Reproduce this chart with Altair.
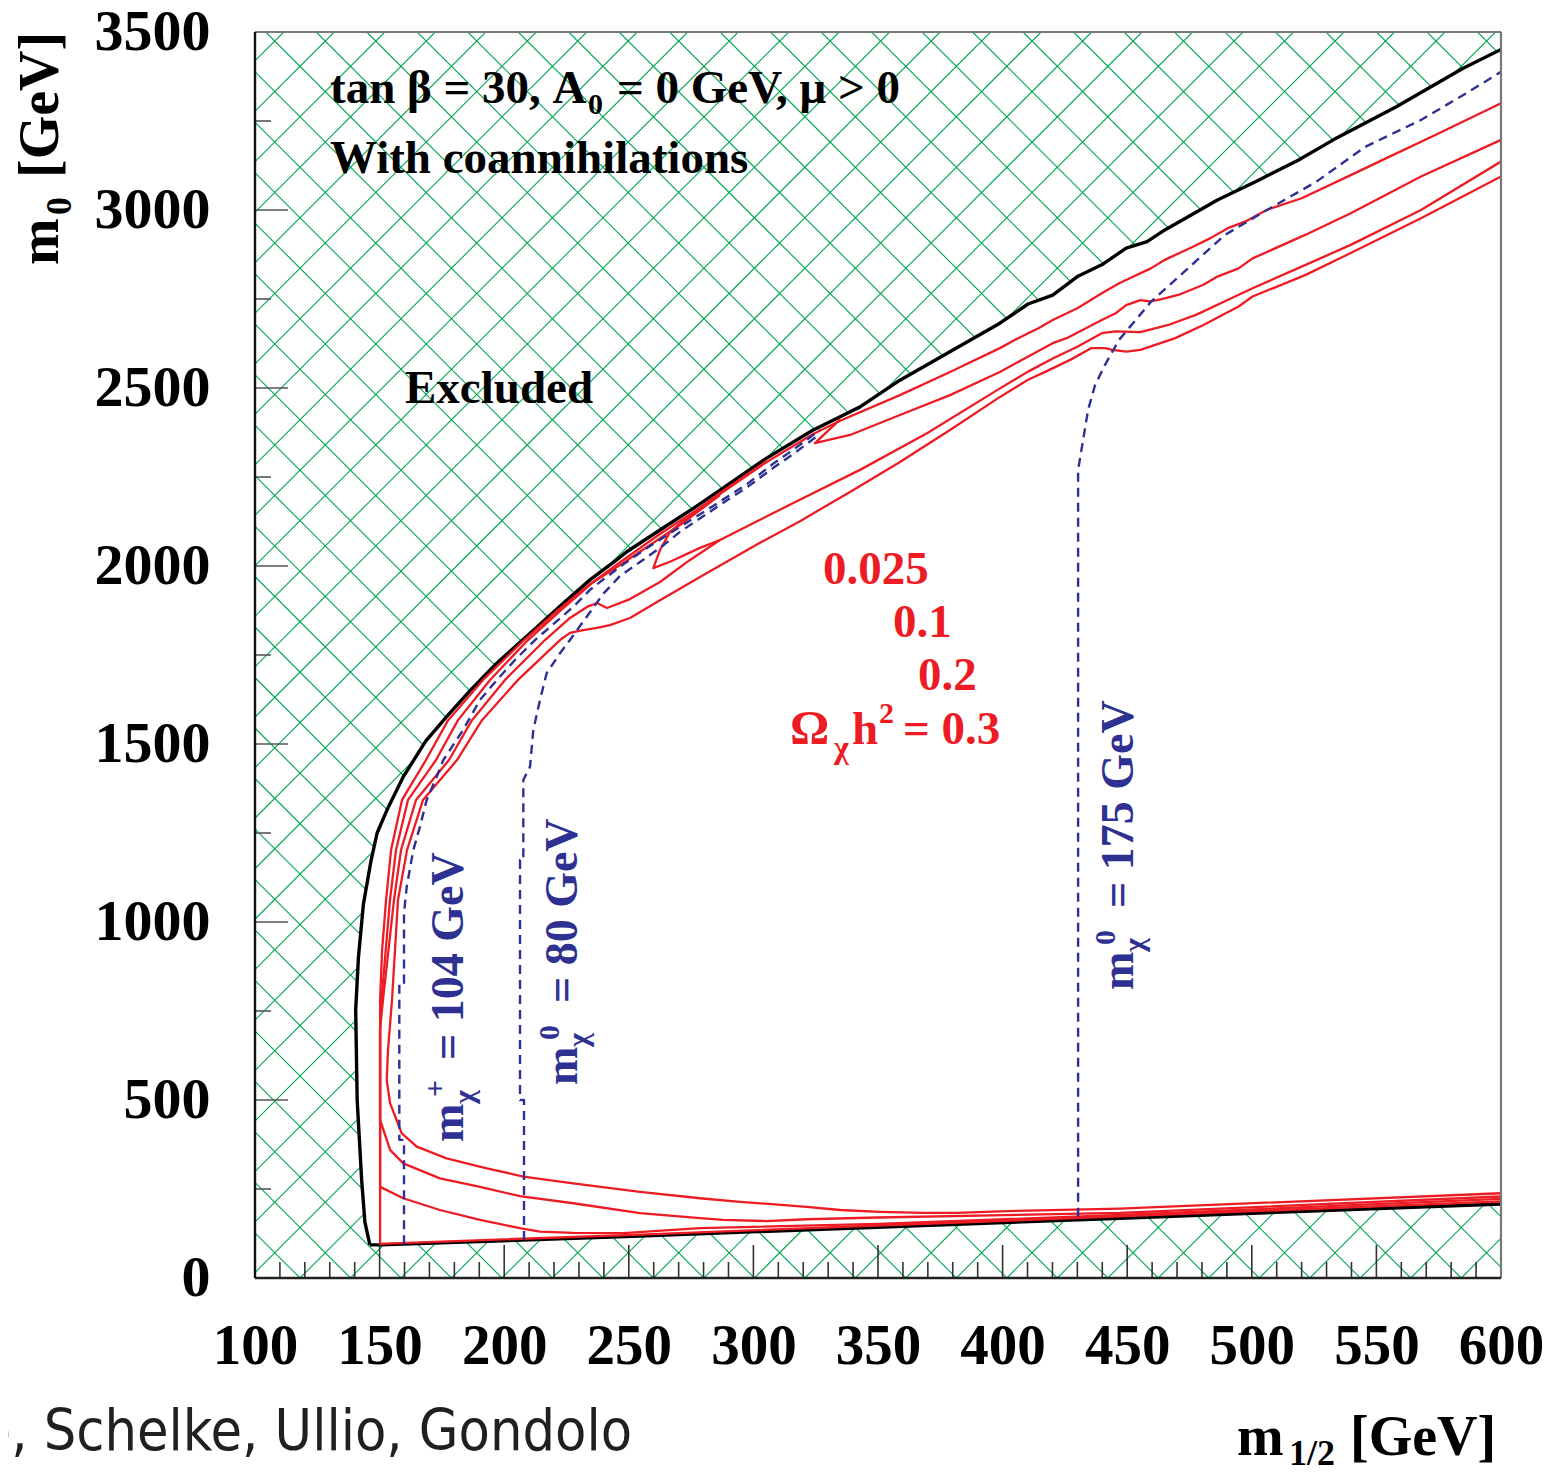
import altair as alt
import numpy as np
import pandas as pd

SERIF = "Liberation Serif"
SANS_C = "DejaVu Sans Condensed"
RED = "#ed1c24"
BLUE = "#2e3192"
GREEN = "#00a651"

X_DOMAIN = [100, 600]
Y_DOMAIN = [0, 3500]
X_LABELS = list(range(100, 601, 50))
Y_LABELS = list(range(0, 3501, 500))
X_MINOR = [v for v in range(110, 600, 10) if v % 50 != 0]
Y_MINOR = list(range(250, 3500, 500))

W = H = 1246
XS = alt.Scale(domain=X_DOMAIN, nice=False, zero=False)
YS = alt.Scale(domain=Y_DOMAIN, nice=False, zero=False)

# ---------------- boundaries (black) ----------------
BLACK_UPPER_X = [146.1, 144.1, 142.8, 141.0, 140.4, 141.5, 143.5, 146.5, 149.0, 153.0, 159.5, 168.5,
                 176.9, 186.3, 197.0, 210.4, 223.7, 234.4, 245.1, 249.2, 262.5, 275.9, 286.6, 305.3,
                 324.0, 334.8, 342.8, 358.8, 398.9, 410.2, 420.1, 430.0, 439.8, 449.6, 458.0, 465.1,
                 479.2, 486.2, 497.5, 501.7, 518.6, 532.7, 558.0, 584.8, 600.0]
BLACK_UPPER_Y = [93, 157, 275, 500, 753, 900, 1050, 1170, 1250, 1315, 1408, 1508,
                 1577, 1650, 1727, 1811, 1895, 1961, 2017, 2040, 2101, 2162, 2213, 2303,
                 2382, 2419, 2447, 2522, 2682, 2736, 2761, 2813, 2846, 2893, 2911, 2944,
                 3000, 3028, 3066, 3080, 3140, 3197, 3290, 3398, 3451]
BLACK_LOWER_X = [146.1, 150.2, 254.5, 447.0, 600.0]
BLACK_LOWER_Y = [93, 93, 118, 168, 208]

# ---------------- relic density contours (red) ----------------
RED_0025_X = [600, 447, 254.5, 150.2, 150.2, 151.0, 152.6, 154.6, 159.0, 168.6, 177.5, 191.5, 208.0,
              221.6, 234.4, 246.5, 262.5, 275.9, 286.6, 305.3, 324.0, 334.8, 358.8, 378.9, 398.9,
              406, 414.4, 420.1, 430, 439.8, 446.8, 452.5, 459.5, 465.1, 476.4, 483.4, 490.4,
              497.5, 505.9, 520, 539.7, 553.8, 574.9, 600]
RED_0025_Y = [215, 173, 122, 96, 781, 921, 1062, 1202, 1343, 1455, 1567, 1680, 1792,
              1876, 1949, 2011, 2090, 2151, 2202, 2292, 2371, 2408, 2480, 2545, 2612,
              2639, 2668, 2691, 2724, 2766, 2794, 2813, 2836, 2860, 2897, 2921, 2949,
              2968, 3000, 3033, 3098, 3145, 3215, 3300]

TONGUE1_X = [334.8, 324.7, 338.8, 358.8, 378.9, 398.9, 408.8, 420.1, 425.7, 439.8, 445.4, 449.6,
             455.3, 459.5, 465.1, 470.8, 480.6, 486.2, 494.7, 500.3, 521.4, 539.7, 567.9, 600]
TONGUE1_Y = [2412, 2345, 2368, 2424, 2480, 2545, 2583, 2626, 2640, 2691, 2710, 2733,
             2747, 2743, 2752, 2762, 2790, 2813, 2836, 2864, 2930, 2991, 3094, 3197]

RED_01_X = [600, 447, 350, 278.6, 247.8, 227.7, 214.4, 206.3, 190.3, 174.2, 159.5, 150.2, 150.2,
            150.76, 154.17, 156.58, 161.4, 172.63, 181.46, 194.3, 209.55, 222.79, 235.23,
            246.47, 258.51, 270.55, 286.6]
RED_01_Y = [222, 177, 152, 140, 126, 127, 130, 140, 163, 191, 224, 256, 700,
            781, 1062, 1202, 1343, 1455, 1567, 1680, 1792, 1876, 1952,
            2003, 2059, 2115, 2199]

RED_02_X = [600, 447, 350, 321.4, 305.3, 288, 278.6, 254.5, 227.7, 206.3, 190.3, 174.2, 159.5,
            154.2, 150.2, 150.2, 151.36, 155.78, 158.59, 164.61, 177.85, 187.08, 200.32, 216.37,
            226.4, 233.22, 237.24, 241.25, 250.48, 262.52, 274.56, 286.6, 316.01, 342.78, 369.66,
            398.96, 410.2, 420.1, 430, 439.8, 445.4, 455.3, 466.5, 477.8, 489, 500.3, 520,
            539.7, 567.9, 600]
RED_02_Y = [229, 183, 170, 165, 160, 163, 168, 182, 210, 230, 256, 280, 322,
            360, 444, 700, 781, 1062, 1202, 1343, 1455, 1567, 1680, 1792,
            1854, 1885, 1896, 1882, 1907, 1955, 2017, 2073, 2177, 2270, 2373,
            2499, 2546, 2583, 2616, 2654, 2659, 2657, 2677, 2706, 2743, 2780, 2841,
            2902, 3000, 3136]

TONGUE2_X = [305.3, 286.6, 275.88, 266.53, 262.52, 259.83, 266.53, 278.57, 286.6]
TONGUE2_Y = [2295, 2205, 2149, 2096, 2045, 1994, 2012, 2051, 2073]

RED_03_X = [600, 447, 401.6, 381.6, 368.2, 350.8, 334.8, 321.4, 294.6, 278.6, 254.5, 227.7, 207.7,
            193, 176.9, 164.9, 158.9, 154.2, 152.85, 153.37, 154.98, 157.38, 161, 167.42, 181.06,
            191.09, 205.54, 222.39, 226.4, 231.62, 237.24, 242.46, 250.48, 262.52, 278.57, 302.64,
            318.7, 338.76, 358.83, 378.89, 398.96, 410.2, 417.3, 427.1, 435.5, 441.2, 444, 449.6,
            455.3, 469.3, 480.6, 494.7, 500.3, 521.4, 539.7, 567.9, 600]
RED_03_Y = [238, 195, 188, 183, 183, 186, 191, 200, 214, 224, 242, 266, 285,
            308, 336, 369, 406, 491, 556, 640, 781, 1062, 1202, 1343, 1455,
            1567, 1680, 1792, 1812, 1820, 1826, 1834, 1854, 1904, 1969, 2065,
            2126, 2208, 2292, 2382, 2475, 2523, 2546, 2579, 2612, 2612, 2607, 2602,
            2607, 2640, 2677, 2729, 2757, 2817, 2879, 2977, 3094]

# ---------------- mass contours (blue dashed) ----------------
CHARGINO_104_X = [159.79, 159.79, 157.91, 157.91, 159.79, 159.79, 160.88, 163.52, 166.21, 168.9,
                  172.91, 175.56, 183.47, 190.29, 197.11, 204.33, 212.36, 221.59, 228.41, 234.43,
                  240.45, 248.47, 258.51, 270.55, 280.58, 289.41, 297.43, 307.86, 315.89, 326.73]
CHARGINO_104_Y = [95, 388, 388, 829, 829, 1025, 1099, 1202, 1268, 1343,
                  1408, 1455, 1539, 1624, 1680, 1736, 1792, 1848, 1890, 1933,
                  1966, 2008, 2056, 2110, 2154, 2194, 2230, 2287, 2326, 2382]

NEUTRALINO_80_X = [207.95, 207.95, 206.35, 206.35, 207.67, 207.67, 210.35, 211.68, 214.37, 217.05,
                   222.39, 226.4, 229.21, 234.43, 239.65, 246.47, 254.49, 262.52, 270.55, 280.58,
                   289.41, 297.43, 307.86, 315.89, 326.73]
NEUTRALINO_80_Y = [107, 500, 500, 1174, 1174, 1399, 1436, 1539, 1624, 1699,
                   1755, 1792, 1820, 1870, 1921, 1972, 2011, 2051, 2096, 2143,
                   2185, 2221, 2275, 2314, 2371]

NEUTRALINO_175_X = [430.3, 430.3, 432.3, 434.3, 437.1, 441.1, 446.7, 459.5, 473.6, 489.2, 506.1,
                    525.8, 545.4, 567.9, 586.3, 600]
NEUTRALINO_175_Y = [172, 2270, 2354, 2438, 2508, 2565, 2635, 2742, 2831, 2930, 3000,
                    3079, 3177, 3253, 3329, 3388]


def path_frame(paths):
    rows = []
    for name, (xs, ys) in paths.items():
        for i, (x, y) in enumerate(zip(xs, ys)):
            rows.append({"seg": name, "i": i, "x": x, "y": y})
    return pd.DataFrame(rows)


XAXIS = alt.Axis(values=X_LABELS, labelFont=SERIF, labelFontWeight="bold", labelFontSize=57,
                 labelColor="black", labelPadding=40, ticks=False, tickSize=0, domain=False,
                 grid=False, title=None, labelFlush=False, labelOverlap=False, format="d")
YAXIS = alt.Axis(values=Y_LABELS, labelFont=SERIF, labelFontWeight="bold", labelFontSize=58,
                 labelColor="black", labelPadding=45, ticks=False, tickSize=0, domain=False,
                 grid=False, title=None, labelFlush=False, labelOverlap=False, format="d")


def X(field, **kw):
    return alt.X(field, type="quantitative", scale=XS, axis=XAXIS, **kw)


def Y(field, **kw):
    return alt.Y(field, type="quantitative", scale=YS, axis=YAXIS, **kw)


def line_layer(df, color, width, dash=None):
    kw = dict(color=color, strokeWidth=width, clip=True, strokeJoin="round", strokeCap="butt")
    if dash:
        kw["strokeDash"] = dash
    return alt.Chart(df).mark_line(**kw).encode(
        x=X("x"), y=Y("y"), detail="seg:N", order="i:Q")


# ---------------- hatch pattern of excluded region ----------------
HATCH_ORIGIN = 118.06
HATCH_STEP = 20.26
HATCH_RUN = (X_DOMAIN[1] - X_DOMAIN[0])  # 45 degrees on screen for a square plot
hrows = []
for k in range(-32, 56):
    c = HATCH_ORIGIN + k * HATCH_STEP
    if -420 <= c <= 620:
        hrows.append({"x0": c, "y0": 0, "x1": c + HATCH_RUN, "y1": 3500})
    if 80 <= c <= 1120:
        hrows.append({"x0": c, "y0": 0, "x1": c - HATCH_RUN, "y1": 3500})
hatch_df = pd.DataFrame(hrows)

hatch = alt.Chart(hatch_df).mark_rule(color=GREEN, strokeWidth=1.1, clip=True).encode(
    x=X("x0"), y=Y("y0"), x2="x1:Q", y2="y1:Q")

# ---------------- allowed (white) region ----------------
ys = np.array(sorted(set(v for v in BLACK_UPPER_Y + BLACK_LOWER_Y if v >= 93)), dtype=float)
xl = np.interp(ys, BLACK_UPPER_Y, BLACK_UPPER_X)
xr = np.where(ys <= BLACK_LOWER_Y[-1], np.interp(ys, BLACK_LOWER_Y[1:], BLACK_LOWER_X[1:]), X_DOMAIN[1])
allowed_df = pd.DataFrame({"y": ys, "xl": xl, "xr": xr})
allowed = alt.Chart(allowed_df).mark_area(orient="horizontal", color="white", opacity=1).encode(
    y=Y("y"), x=X("xl", stack=None), x2="xr:Q")

black_df = path_frame({"upper": (BLACK_UPPER_X, BLACK_UPPER_Y), "lower": (BLACK_LOWER_X, BLACK_LOWER_Y)})
red_df = path_frame({
    "0.025": (RED_0025_X, RED_0025_Y),
    "t1": (TONGUE1_X, TONGUE1_Y),
    "0.1": (RED_01_X, RED_01_Y),
    "0.2": (RED_02_X, RED_02_Y),
    "t2": (TONGUE2_X, TONGUE2_Y),
    "0.3": (RED_03_X, RED_03_Y),
})
blue_df = path_frame({
    "c104": (CHARGINO_104_X, CHARGINO_104_Y),
    "n80": (NEUTRALINO_80_X, NEUTRALINO_80_Y),
    "n175": (NEUTRALINO_175_X, NEUTRALINO_175_Y),
})

black_lines = line_layer(black_df, "black", 3.4)
red_lines = line_layer(red_df, RED, 2.3)
blue_lines = line_layer(blue_df, BLUE, 2.4, dash=[9, 6])


# ---------------- ticks (inward) and frame ----------------
def yticks(vals, length, color):
    return alt.Chart(pd.DataFrame({"v": vals})).mark_rule(color=color, strokeWidth=1.6).encode(
        y=Y("v"), x=alt.value(0), x2=alt.value(length))


def xticks(vals, length, color):
    return alt.Chart(pd.DataFrame({"v": vals})).mark_rule(color=color, strokeWidth=1.6).encode(
        x=X("v"), y=alt.value(H), y2=alt.value(H - length))


def hframe(yv, color, width):
    df = pd.DataFrame({"x": [X_DOMAIN[0]], "x2": [X_DOMAIN[1]], "y": [yv]})
    return alt.Chart(df).mark_rule(color=color, strokeWidth=width).encode(x=X("x"), x2="x2:Q", y=Y("y"))


def vframe(xv, color, width):
    df = pd.DataFrame({"y": [Y_DOMAIN[0]], "y2": [Y_DOMAIN[1]], "x": [xv]})
    return alt.Chart(df).mark_rule(color=color, strokeWidth=width).encode(y=Y("y"), y2="y2:Q", x=X("x"))


# ---------------- text ----------------
def txt(text, x, y, size, color="black", dx=0, dy=0, angle=0, align="left",
        font=SERIF, weight="bold", pixel=False):
    kw = dict(text=text, fontSize=size, color=color, dx=dx, dy=dy, align=align,
              baseline="alphabetic", font=font, fontWeight=weight)
    if angle:
        kw["angle"] = angle
    base = alt.Chart(pd.DataFrame({"x": [x], "y": [y]})).mark_text(**kw)
    if pixel:
        return base.encode(x=alt.value(x), y=alt.value(y))
    return base.encode(x=X("x"), y=Y("y"))


def mass_label(x, y, sup, rest):
    return [
        txt("m", x, y, 46, color=BLUE, angle=270),
        txt("χ", x, y, 30, color=BLUE, angle=270, dx=38, dy=11),
        txt(sup, x, y, 30, color=BLUE, angle=270, dx=45, dy=-18),
        txt(rest, x, y, 46, color=BLUE, angle=270, dx=82),
    ]


texts = [
    # header
    txt("tan β = 30, A", 130.1, 3300, 47),
    txt("0", 130.1, 3300, 30, dx=258, dy=11),
    txt("= 0 GeV, μ > 0", 130.1, 3300, 47, dx=287),
    txt("With coannihilations", 130.1, 3104, 47),
    txt("Excluded", 160.2, 2458, 47),
    # relic density labels
    txt("0.025", 327.9, 1949, 47, color=RED),
    txt("0.1", 356.0, 1801, 47, color=RED),
    txt("0.2", 366.1, 1652, 47, color=RED),
    txt("Ω", 314.7, 1500, 49, color=RED),
    txt("χ", 314.7, 1500, 32, color=RED, dx=44, dy=14),
    txt("h", 314.7, 1500, 47, color=RED, dx=62),
    txt("2", 314.7, 1500, 30, color=RED, dx=89, dy=-21),
    txt("= 0.3", 314.7, 1500, 47, color=RED, dx=113),
]
texts += mass_label(183.5, 382, "+", "= 104 GeV")
texts += mass_label(229.2, 542, "0", "= 80 GeV")
texts += mass_label(452.3, 809, "0", "= 175 GeV")
texts += [
    # axis titles
    txt("m", -197, 233, 56, angle=270, pixel=True),
    txt("0", -197, 233, 36, angle=270, dx=50, dy=13, pixel=True),
    txt("[GeV]", -197, 233, 56, angle=270, dx=87, pixel=True),
    txt("m", 982, 1423, 56, pixel=True),
    txt("1/2", 982, 1423, 36, dx=52, dy=10, pixel=True),
    txt("[GeV]", 982, 1423, 56, dx=113, pixel=True),
    # credit line
    txt("Edsjö, Schelke, Ullio, Gondolo", 377, 1418, 57, color="#231f20", align="right",
        font=SANS_C, weight="normal", pixel=True),
]

layers = [
    hatch,
    allowed,
    black_lines,
    red_lines,
    blue_lines,
    yticks(Y_LABELS, 33, "#555555"),
    yticks(Y_MINOR, 16, "#555555"),
    xticks(X_LABELS, 33, "#333333"),
    xticks(X_MINOR, 16, "#333333"),
    hframe(Y_DOMAIN[1], "#777777", 2.2),
    vframe(X_DOMAIN[1], "#777777", 2.2),
    hframe(Y_DOMAIN[0], "#222222", 2.6),
    vframe(X_DOMAIN[0], "#111111", 2.4),
] + texts

chart = alt.layer(*layers).properties(
    width=W, height=H,
    padding={"left": 247, "top": 24, "right": 41, "bottom": 189},
    autosize=alt.AutoSizeParams(type="none"),
).configure_view(stroke=None)

chart.save("out.html", embed_options={"renderer": "svg", "actions": False})
